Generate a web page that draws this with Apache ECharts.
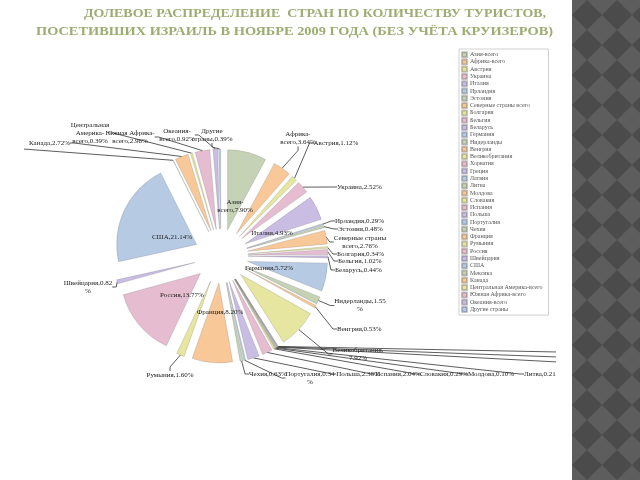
<!DOCTYPE html>
<html><head><meta charset="utf-8">
<script src="https://cdn.jsdelivr.net/npm/echarts@6/dist/echarts.min.js"></script>
<style>html,body{margin:0;padding:0;background:#fff}#c{width:640px;height:480px}</style>
</head><body><div id="c"></div>
<script>
const titleLines = ['ДОЛЕВОЕ РАСПРЕДЕЛЕНИЕ  СТРАН ПО КОЛИЧЕСТВУ ТУРИСТОВ,', 'ПОСЕТИВШИХ ИЗРАИЛЬ В НОЯБРЕ 2009 ГОДА (БЕЗ УЧЁТА КРУИЗЕРОВ)'];
const names = ['Азия-всего','Африка-всего','Австрия','Украина','Италия','Ирландия','Эстония','Северные страны всего','Болгария','Бельгия','Беларусь','Германия','Нидерланды','Венгрия','Великобритания','Хорватия','Греция','Латвия','Литва','Молдова','Словакия','Испания','Польша','Португалия','Чехия','Франция','Румыния','Россия','Швейцария','США','Мексика','Канада','Центральная Америка-всего','Южная Африка-всего','Океания-всего','Другие страны'];
const values = [7.90,3.64,1.12,2.52,4.93,0.29,0.48,2.76,0.34,1.02,0.44,5.72,1.55,0.53,7.92,0.05,0.12,0.08,0.21,0.10,0.29,2.04,2.38,0.34,0.63,8.20,1.60,13.77,0.82,21.14,0.06,2.72,0.39,2.96,0.92,0.39];
// label text templates ({v} = value)
const labelWrap = {
  'Азия-всего':'Азия-\nвсего,{v}%','Африка-всего':'Африка-\nвсего,{v}%','Северные страны всего':'Северные страны\nвсего,{v}%',
  'Нидерланды':'Нидерланды,{v}\n%','Великобритания':'Великобритания,\n{v}%','Португалия':'Португалия,{v}\n%',
  'Швейцария':'Швейцария,{v}\n%','Центральная Америка-всего':'Центральная\nАмерика-\nвсего,{v}%',
  'Южная Африка-всего':'Южная Африка-\nвсего,{v}%','Океания-всего':'Океания-\nвсего,{v}%','Другие страны':'Другие\nстраны,{v}%'
};
const innerLabels = ['Азия-всего','Италия','Германия','Франция','Россия','США'];
// label placement (x, y, align), same order as names
const labelPos = [[235,206,'center'],[298,138.5,'center'],[336,143,'center'],[337,187,'left'],[272,233,'center'],[335,221,'left'],[338,229,'left'],[360,242,'center'],[337,254,'left'],[338,261,'left'],[335,270,'left'],[269,268,'center'],[360,305.5,'center'],[337,329,'left'],[358,354,'center'],[562,352,'left'],[562,357,'left'],[562,362,'left'],[524,374,'left'],[491,374,'center'],[444,374,'center'],[398,374,'center'],[358,374,'center'],[310,378,'center'],[268,374,'center'],[220,312,'center'],[170,375,'center'],[182,295,'center'],[88,287,'center'],[172,237,'center'],[-30,147,'center'],[70,143,'right'],[90,133,'center'],[130,137,'center'],[177,135,'center'],[212,135,'center']];
const palette = ['#c5d2b5','#f8c898','#e6e6a0','#e6bdd0','#c9bde3','#b6cae4'];

const PIE_C = [221, 256], PIE_R = 80, EXPLODE = 27;

const chart = echarts.init(document.getElementById('c'), null, {renderer:'canvas'});
const ctx = document.createElement('canvas').getContext('2d');
const titleFont = 'bold 13.5px "Liberation Serif"';
ctx.font = titleFont;
const sx1 = (546 - 84) / ctx.measureText(titleLines[0]).width;
const sx2 = (553 - 36) / ctx.measureText(titleLines[1]).width;

const els = [];
els.push({type:'text', x:84, y:14, scaleX:sx1, style:{text:titleLines[0], font:titleFont, fill:'#9eac72', align:'left', verticalAlign:'middle'}});
els.push({type:'text', x:36, y:32, scaleX:sx2, style:{text:titleLines[1], font:titleFont, fill:'#9eac72', align:'left', verticalAlign:'middle'}});
els.push({type:'rect', z:100, shape:{x:0,y:40,width:24,height:440}, style:{fill:'#fff'}});
els.push({type:'rect', z:100, shape:{x:572,y:0,width:68,height:480}, style:{fill:'#4b4b4b'}});
const d = 30;
for (let j = 0; j <= 16; j++) {
  for (let i = 0; i <= 3; i++) {
    const cxp = 572 + i * d, cyp = j * d;
    els.push({type:'polygon', z:101, shape:{points:[[cxp,cyp-d/2],[cxp+d/2,cyp],[cxp,cyp+d/2],[cxp-d/2,cyp]]}, style:{fill:'#5d5d5d'}});
  }
}
els.push({type:'rect', z:102, shape:{x:556,y:0,width:16,height:480}, style:{fill:'#fff'}});

const total = values.reduce((a, b) => a + b, 0);
let cum = 0;
const series = names.map((n, i) => {
  const v = values[i];
  const start = 90 - cum / total * 360;
  const mid = (cum + v / 2) / total * 2 * Math.PI;
  cum += v;
  const inner = innerLabels.includes(n);
  return {
    type:'pie', silent:true, center:[PIE_C[0] + EXPLODE * Math.sin(mid), PIE_C[1] - EXPLODE * Math.cos(mid)],
    radius:[0, PIE_R], startAngle:start, clockwise:true, avoidLabelOverlap:false,
    emphasis:{disabled:true},
    label:{show:true, position: inner ? 'inside' : 'outside', fontFamily:'Liberation Serif', fontSize:7, lineHeight:8, color:'#222',
      formatter: p => (labelWrap[p.name] || '{n},{v}%').replace('{n}', p.name).replace('{v}', p.value.toFixed(2))},
    labelLine:{show:!inner, length:5, length2:4, lineStyle:{color:'#333', width:0.8}},
    labelLayout: p => { if (p.dataIndex !== 0) return {}; const q = labelPos[i]; return {x:q[0], y:q[1], align:q[2], verticalAlign:'middle'}; },
    data:[
      {name:n, value:v, itemStyle:{color:palette[i % 6], borderColor:'rgba(90,90,90,0.35)', borderWidth:0.6}},
      {name:'', value:total - v, itemStyle:{color:'rgba(0,0,0,0)', borderWidth:0}, label:{show:false}, labelLine:{show:false}}
    ]
  };
});

const option = {
  animation: false,
  graphic: {elements: els},
  legend: {
    orient:'vertical', left:459, top:49, selectedMode:false,
    data: names.map((n, i) => ({name:n, itemStyle:{color:palette[i % 6]}})),
    icon:'rect', itemWidth:5, itemHeight:5, itemGap:0, padding:[2,6,2,2],
    borderColor:'#c4c4c4', borderWidth:0.8,
    textStyle:{fontFamily:'Liberation Serif', fontSize:6, color:'#555', lineHeight:7.28, padding:[0,0,0,-2]}
  },
  series: series
};
chart.setOption(option);
</script></body></html>
